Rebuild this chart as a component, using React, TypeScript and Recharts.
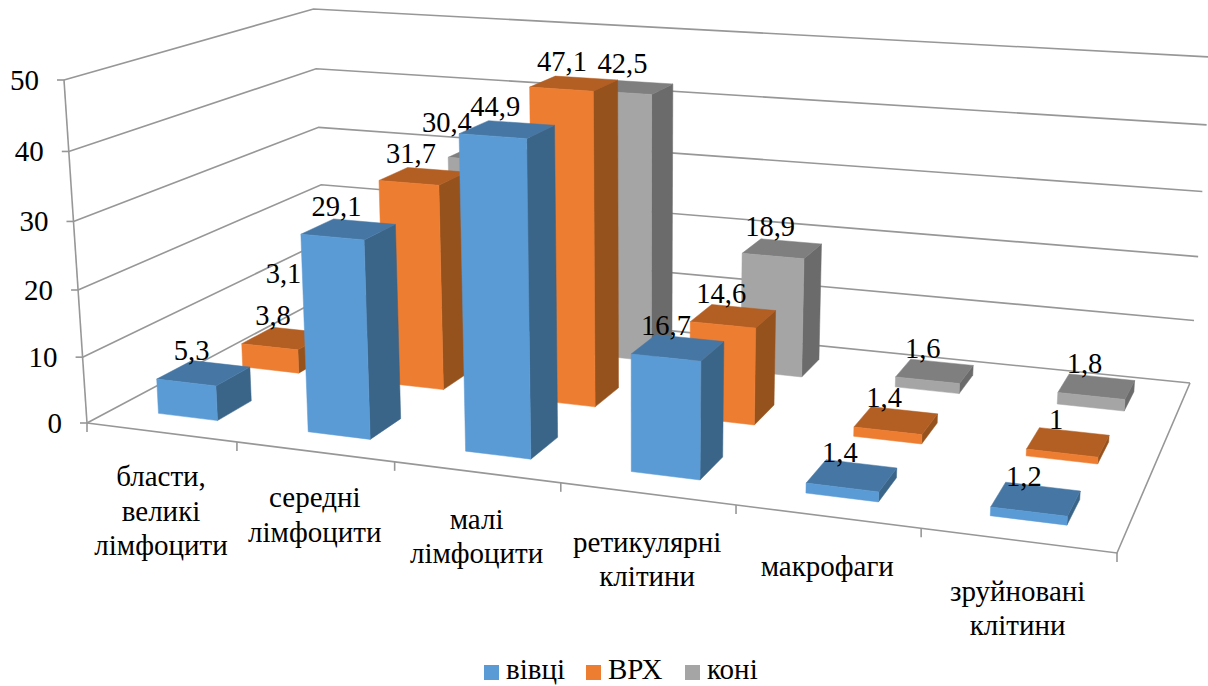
import React from "react";
import { BarChart, Bar, XAxis, YAxis, Legend } from "recharts";

const categories = [
  "бласти,\nвеликі\nлімфоцити",
  "середні\nлімфоцити",
  "малі\nлімфоцити",
  "ретикулярні\nклітини",
  "макрофаги",
  "зруйновані\nклітини",
];
const vivtsi = [5.3, 29.1, 44.9, 16.7, 1.4, 1.2];
const vrh = [3.8, 31.7, 47.1, 14.6, 1.4, 1];
const koni = [3.1, 30.4, 42.5, 18.9, 1.6, 1.8];
const yTicks = [0, 10, 20, 30, 40, 50];
const seriesNames = ["вівці", "ВРХ", "коні"];

const WIDTH = 1208;
const HEIGHT = 686;
const Y_MAX = 50;
const AXIS_SIZE = 1; // axes with zero size are not drawn at all
const PLOT_W = WIDTH - AXIS_SIZE;
const FONT = '"Liberation Serif", serif';
const GRID = "#979797";

const data = categories.map((name, i) => ({
  name,
  vivtsi: vivtsi[i],
  vrh: vrh[i],
  koni: koni[i],
}));

// corners of the 3D box as they land on screen: floor and the plane at the axis maximum
type Pt = [number, number];
const floorQuad: Pt[] = [[87, 423], [1117, 553], [1190, 383], [326, 296]];
const topQuad: Pt[] = [[64, 80], [1140, 154], [1211, 57], [313.5, 9]];

function quadMap(q: Pt[]) {
  const [[x0, y0], [x1, y1], [x2, y2], [x3, y3]] = q;
  const dx1 = x1 - x2;
  const dx2 = x3 - x2;
  const sx = x0 - x1 + x2 - x3;
  const dy1 = y1 - y2;
  const dy2 = y3 - y2;
  const sy = y0 - y1 + y2 - y3;
  const den = dx1 * dy2 - dx2 * dy1;
  const g = (sx * dy2 - dx2 * sy) / den;
  const h = (dx1 * sy - sx * dy1) / den;
  const a = x1 - x0 + g * x1;
  const b = x3 - x0 + h * x3;
  const d = y1 - y0 + g * y1;
  const e = y3 - y0 + h * y3;
  return (u: number, v: number): Pt => {
    const w = g * u + h * v + 1;
    return [(a * u + b * v + x0) / w, (d * u + e * v + y0) / w];
  };
}

const floorAt = quadMap(floorQuad);
const topAt = quadMap(topQuad);

// u: along the categories, v: depth, h: share of the value axis
function project(u: number, v: number, h: number): Pt {
  const f = floorAt(u, v);
  const t = topAt(u, v);
  const k = (h * 0.95) / (1 - 0.05 * h); // upper grid bands are a bit taller
  return [f[0] + (t[0] - f[0]) * k, f[1] + (t[1] - f[1]) * k];
}

// bar uprights lean a little less than the wall edge
function projectBar(u: number, v: number, h: number): Pt {
  const p = project(u, v, h);
  return [p[0] + 3 * h, p[1]];
}

const pts = (list: Pt[]) => list.map((p) => p.join(",")).join(" ");

// two hidden grey bars had their labels dragged aside in the original
const labelShift: Record<string, Pt> = {
  "3.1": [-61, -7],
  "30.4": [-30, -9],
  "42.5": [2, -1],
};

function makeShape(row: number, front: string, top: string, side: string) {
  const v0 = (row + 0.3) / 3;
  const v1 = (row + 0.7) / 3;
  return (p: any) => {
    const u0 = (p.x - AXIS_SIZE) / PLOT_W;
    const u1 = (p.x + p.width - AXIS_SIZE) / PLOT_W;
    const h = p.height / p.background.height;
    const value = p.tooltipPayload?.[0]?.value ?? p.value;
    const c = projectBar((u0 + u1) / 2, (v0 + v1) / 2, h);
    const shift = labelShift[String(value)] ?? [0, 0];
    return (
      <g>
        <polygon
          points={pts([projectBar(u1, v0, 0), projectBar(u1, v1, 0), projectBar(u1, v1, h), projectBar(u1, v0, h)])}
          fill={side}
          stroke={side}
          strokeWidth={0.5}
        />
        <polygon
          points={pts([projectBar(u0, v0, h), projectBar(u1, v0, h), projectBar(u1, v1, h), projectBar(u0, v1, h)])}
          fill={top}
          stroke={top}
          strokeWidth={0.5}
        />
        <polygon
          points={pts([projectBar(u0, v0, 0), projectBar(u1, v0, 0), projectBar(u1, v0, h), projectBar(u0, v0, h)])}
          fill={front}
          stroke={front}
          strokeWidth={0.5}
        />
        <text
          x={c[0] - 12 + shift[0]}
          y={c[1] - 13 + shift[1]}
          textAnchor="middle"
          fontFamily={FONT}
          fontSize={28.5}
          fill="#000"
        >
          {String(value).replace(".", ",")}
        </text>
      </g>
    );
  };
}

function Walls() {
  return (
    <g fill="none" stroke={GRID} strokeWidth={1.6}>
      {yTicks.map((t) => {
        const h = t / Y_MAX;
        const a = project(0, 0, h);
        return (
          <g key={t}>
            <polyline points={pts([a, project(0, 1, h), project(1, 1, h)])} />
            <line x1={a[0] - 7} y1={a[1]} x2={a[0]} y2={a[1]} />
          </g>
        );
      })}
      <line
        x1={project(0, 0, 0)[0]}
        y1={project(0, 0, 0)[1]}
        x2={project(0, 0, 1)[0]}
        y2={project(0, 0, 1)[1]}
      />
      <polyline points={pts([project(0, 0, 0), project(1, 0, 0), project(1, 1, 0)])} />
      {categories.concat("").map((_, i) => {
        const b = project(i / categories.length, 0, 0);
        return <line key={i} x1={b[0]} y1={b[1]} x2={b[0]} y2={b[1] + 9} />;
      })}
    </g>
  );
}

function CategoryTick(props: any) {
  const u = (props.x - AXIS_SIZE) / PLOT_W;
  const base = project(u, 0, 0);
  const lines = String(props.payload.value).split("\n");
  return (
    <text textAnchor="middle" fontFamily={FONT} fontSize={29} fill="#000">
      {lines.map((line, i) => (
        <tspan key={i} x={base[0]} y={base[1] + 53.5 + 7.5 * u + i * 34.5}>
          {line}
        </tspan>
      ))}
    </text>
  );
}

function ValueTick(props: any) {
  const a = project(0, 0, props.payload.value / Y_MAX);
  return (
    <text x={a[0] - 25} y={a[1] + 10} textAnchor="end" fontFamily={FONT} fontSize={29} fill="#000">
      {props.payload.value}
    </text>
  );
}

const legendSlots = [102, 99, 80];

function LegendItems(props: any) {
  const items = [...(props.payload ?? [])].sort(
    (a, b) => seriesNames.indexOf(a.value) - seriesNames.indexOf(b.value),
  );
  return (
    <div style={{ display: "flex", alignItems: "center", paddingLeft: 484, fontFamily: FONT, fontSize: 29, lineHeight: "24px" }}>
      {items.map((it, i) => (
        <div key={it.value} style={{ display: "flex", alignItems: "center", gap: 7, width: legendSlots[i] }}>
          <span style={{ width: 15, height: 15, background: it.color, display: "inline-block", position: "relative", top: 3 }} />
          <span>{it.value}</span>
        </div>
      ))}
    </div>
  );
}

export default function App() {
  return (
    <div style={{ position: "absolute", left: 0, top: 0, width: WIDTH, height: HEIGHT, overflow: "hidden", background: "#fff" }}>
      <BarChart
        width={WIDTH}
        height={HEIGHT}
        data={data}
        margin={{ top: 0, right: 0, bottom: 0, left: 0 }}
        barSize={(PLOT_W / categories.length) * 0.4}
        barGap={-(PLOT_W / categories.length) * 0.4}
      >
        <Walls />
        <XAxis dataKey="name" height={AXIS_SIZE} interval={0} axisLine={false} tickLine={false} tick={CategoryTick} />
        <YAxis width={AXIS_SIZE} domain={[0, Y_MAX]} ticks={yTicks} interval={0} axisLine={false} tickLine={false} tick={ValueTick} />
        <Legend
          content={LegendItems}
          wrapperStyle={{ left: 0, top: 657, width: WIDTH, bottom: "auto" }}
        />
        <Bar dataKey="koni" name="коні" fill="#A5A5A5" isAnimationActive={false} shape={makeShape(2, "#A5A5A5", "#7F7F7F", "#6B6B6B")} />
        <Bar dataKey="vrh" name="ВРХ" fill="#ED7D31" isAnimationActive={false} shape={makeShape(1, "#ED7D31", "#B35E22", "#96521C")} />
        <Bar dataKey="vivtsi" name="вівці" fill="#5B9BD5" isAnimationActive={false} shape={makeShape(0, "#5B9BD5", "#4677A4", "#3A6589")} />
      </BarChart>
    </div>
  );
}
